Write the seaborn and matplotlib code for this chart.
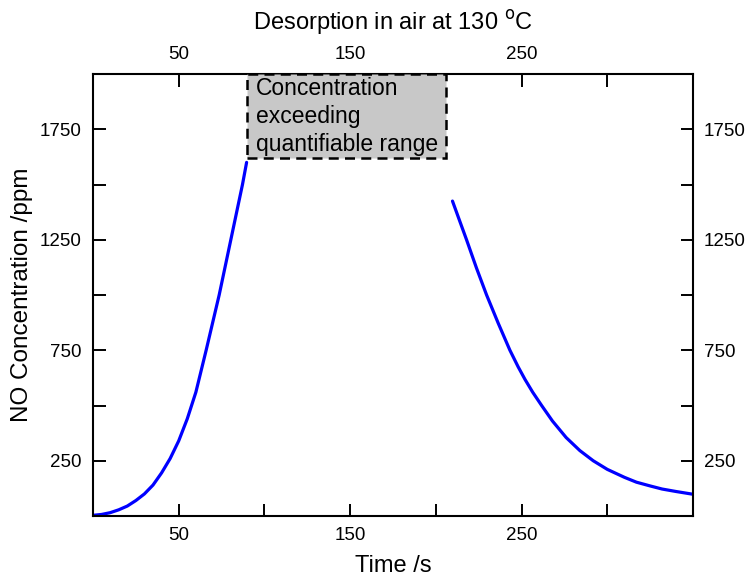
import matplotlib
matplotlib.use("Agg")
import matplotlib.pyplot as plt
import seaborn as sns
import pandas as pd
from matplotlib.patches import Rectangle
from matplotlib.ticker import FixedLocator

sns.set_theme(style="white")
plt.rcParams['font.family'] = ['Liberation Sans', 'DejaVu Sans']
plt.rcParams['text.color'] = 'black'
plt.rcParams['axes.labelcolor'] = 'black'
plt.rcParams['xtick.color'] = 'black'
plt.rcParams['ytick.color'] = 'black'

# Rising segment (before detector saturation)
rise_time = [0, 5, 10, 15, 20, 25, 30, 35, 40, 45, 50, 55, 60, 66, 73.6, 80.4, 87.2, 89.6]
rise_conc = [3, 7, 15, 28, 45, 70, 100, 140, 195, 260, 340, 440, 560, 750, 1000, 1250, 1500, 1600]

# Decay segment (after returning into range)
decay_time = [209.7, 214, 217.9, 223.7, 229.6, 236.4, 243.2, 248, 252, 256.5, 261.7, 268,
              276, 284, 291.8, 300, 310, 317, 325, 332, 340, 349.5]
decay_conc = [1425, 1333, 1250, 1122, 1000, 872, 750, 675, 618, 560, 500, 430,
              355, 296, 250, 211, 175, 153, 136, 122, 111, 99]

major_x = [50, 150, 250]
minor_x = [100, 200, 300]
major_y = [250, 750, 1250, 1750]
minor_y = [500, 1000, 1500]

box_x = [90, 206]
box_y = [1620, 2000]
box_text = "Concentration\nexceeding\nquantifiable range"

fig = plt.figure(figsize=(7.46, 5.79), dpi=100)
ax = fig.add_axes([93 / 746, 1 - 516 / 579, 600 / 746, 442 / 579])

df1 = pd.DataFrame({"t": rise_time, "c": rise_conc})
df2 = pd.DataFrame({"t": decay_time, "c": decay_conc})
sns.lineplot(data=df1, x="t", y="c", ax=ax, color="#0000ff", lw=2.3, sort=False)
sns.lineplot(data=df2, x="t", y="c", ax=ax, color="#0000ff", lw=2.3, sort=False)

ax.add_patch(Rectangle((box_x[0], box_y[0]), box_x[1] - box_x[0], box_y[1] - box_y[0],
                       facecolor="#c8c8c8", edgecolor="black", linestyle=(0, (4, 2.5)),
                       lw=1.8, zorder=3, clip_on=False))
ax.text(box_x[0] + 5, box_y[1] - 14, box_text, ha="left", va="top", fontsize=16.5,
        linespacing=1.28, zorder=4, color="black")

ax.set_xlim(0, 350)
ax.set_ylim(0, 2000)
ax.xaxis.set_major_locator(FixedLocator(major_x))
ax.xaxis.set_minor_locator(FixedLocator(minor_x))
ax.yaxis.set_major_locator(FixedLocator(major_y))
ax.yaxis.set_minor_locator(FixedLocator(minor_y))

ax.tick_params(which="both", direction="in", top=True, right=True, bottom=True, left=True,
               labeltop=True, labelright=True, length=9, width=1.4, color="black",
               labelsize=13.5, pad=8, labelcolor="black")
for s in ax.spines.values():
    s.set_linewidth(1.5)
    s.set_color("black")

ax.set_xlabel("Time /s", fontsize=17, labelpad=8, color="black")
ax.set_ylabel("NO Concentration /ppm", fontsize=17.5, labelpad=5, color="black")
ax.set_title("Desorption in air at 130 $^{\\mathrm{o}}$C", fontsize=17, pad=32, color="black")

fig.savefig("out.png", dpi=100)
